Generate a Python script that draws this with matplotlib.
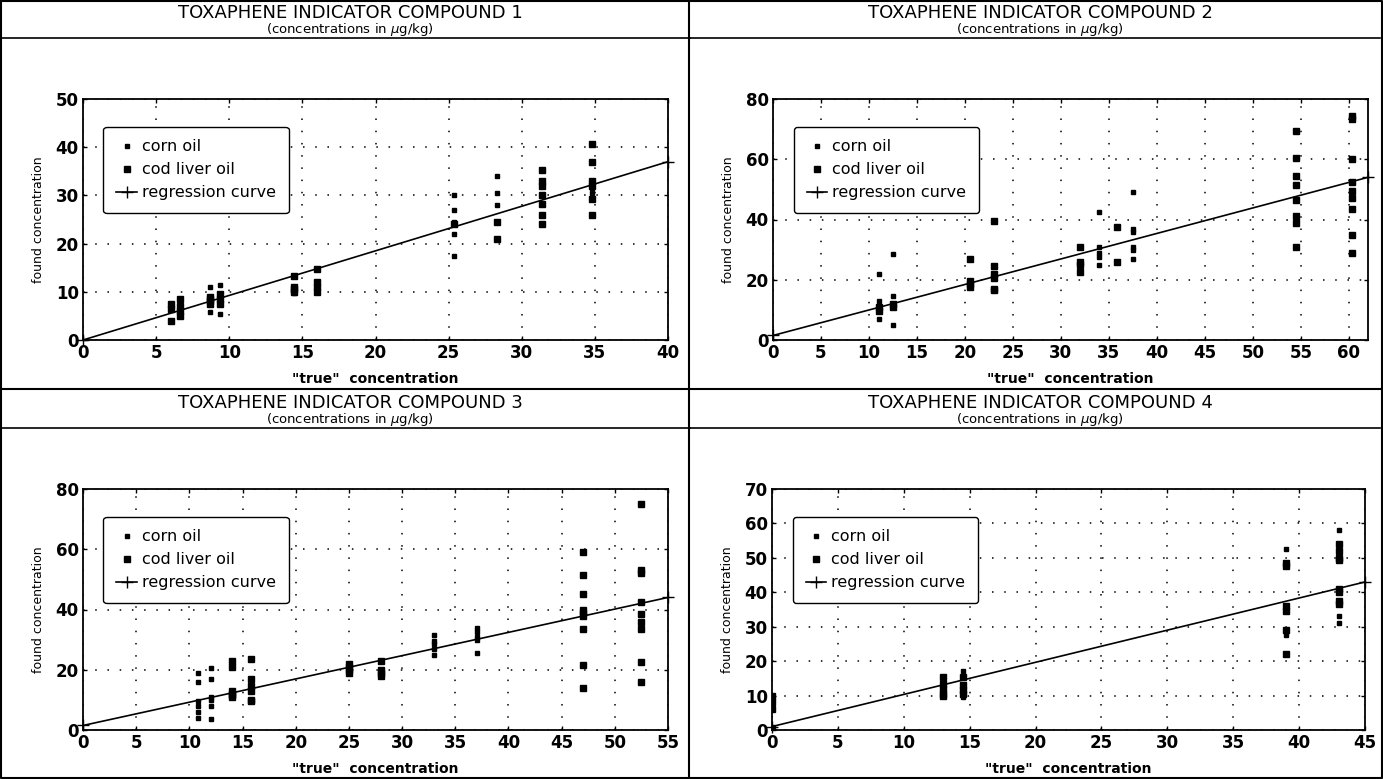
from matplotlib import pyplot as plt
from matplotlib.lines import Line2D
import numpy as np

# figure size in pixels (saved at dpi 100)
figW, figH = 1383, 779

titles = ['TOXAPHENE INDICATOR COMPOUND 1', 'TOXAPHENE INDICATOR COMPOUND 2',
          'TOXAPHENE INDICATOR COMPOUND 3', 'TOXAPHENE INDICATOR COMPOUND 4']
subtitle = '(concentrations in $\\mu$g/kg)'

# compound 1
cornX1 = [6.0, 6.6, 8.7, 8.7, 9.4, 9.4, 14.4, 25.4, 25.4, 25.4, 25.4, 25.4,
          28.3, 28.3, 28.3, 34.8, 34.8]
cornY1 = [7, 6, 11, 5.8, 11.5, 5.3, 9.8, 30, 27, 24.5, 22, 17.5,
          34, 30.5, 28, 31.5, 30.5]
codX1 = [6.0, 6.0, 6.0, 6.6, 6.6, 6.6, 6.6, 8.7, 8.7, 8.7, 8.7, 9.4, 9.4, 9.4,
         14.4, 14.4, 14.4, 14.4, 16.0, 16.0, 16.0, 16.0, 25.4, 28.3, 28.3,
         31.4, 31.4, 31.4, 31.4, 31.4, 31.4, 31.4,
         34.8, 34.8, 34.8, 34.8, 34.8, 34.8]
codY1 = [4, 6.5, 7.5, 5, 6, 7, 8.5, 7.5, 8, 8.5, 9, 7.5, 8.5, 9.5,
         13.2, 11, 10.5, 10, 14.8, 12, 11, 10, 24, 24.5, 21,
         35.3, 33, 32, 30, 28.2, 26, 24,
         40.7, 37, 33, 32, 29.3, 26]
regX1 = [0, 40]
regY1 = [0, 37]

# compound 2
cornX2 = [11, 11, 11, 12.5, 12.5, 12.5, 34, 34, 34, 34, 34,
          37.5, 37.5, 37.5, 37.5, 37.5, 37.5]
cornY2 = [22, 13, 7, 28.5, 14.5, 5, 42.5, 31, 29, 27.5, 25,
          49, 37, 36, 31, 30, 27]
codX2 = [11, 11, 12.5, 12.5, 20.5, 20.5, 20.5, 20.5, 23, 23, 23, 23, 23, 23,
         32, 32, 32, 32, 35.8, 35.8,
         54.5, 54.5, 54.5, 54.5, 54.5, 54.5, 54.5, 54.5,
         60.3, 60.3, 60.3, 60.3, 60.3, 60.3, 60.3, 60.3, 60.3]
codY2 = [9.5, 11, 11, 12, 27, 19.5, 18.5, 17.5, 39.5, 24.5, 22, 20.5, 17, 16.5,
         31, 26, 25, 22.5, 37.5, 26,
         69.5, 60.5, 54.5, 51.5, 46.5, 41, 39, 31,
         74.5, 73.5, 60, 52.5, 49.5, 47, 43.5, 35, 29]
regX2 = [0, 62]
regY2 = [1.5, 54]

# compound 3
cornX3 = [10.8] * 6 + [12] * 6 + [33] * 5 + [37] * 5
cornY3 = [19, 16, 9.5, 8, 6, 4, 20.5, 17, 11, 10, 8, 3.5,
          31.5, 29.5, 28.5, 27, 25, 34, 32.5, 31, 30, 25.5]
codX3 = [14] * 6 + [15.8] * 6 + [25] * 4 + [28] * 4 + [47] * 9 + [52.5] * 9
codY3 = [23, 21, 13, 12, 11.5, 11, 23.5, 17, 14.5, 13, 10, 9.5,
         22, 21, 20, 19, 23, 20, 19, 18,
         59, 51.5, 45, 40, 39, 38, 33.5, 21.5, 14,
         75, 53, 52, 42.5, 38.5, 36, 33.5, 22.5, 16]
regX3 = [0, 55]
regY3 = [1.5, 44]

# compound 4
cornX4 = [13, 14.5, 14.5, 39, 39, 39, 43, 43, 43]
cornY4 = [14, 17, 9.5, 52.5, 35, 27.5, 58, 33, 31]
codX4 = [0] * 4 + [13] * 5 + [14.5] * 4 + [39] * 6 + [43] * 8
codY4 = [10, 8, 6, 0.5, 15.5, 13.5, 12, 10.5, 10, 15.5, 13, 11.5, 10.5,
         48.5, 47.5, 36, 34.5, 29, 22,
         54, 52, 50, 49.5, 41, 40, 37.5, 36.5]
regX4 = [0, 45]
regY4 = [1, 43]

xMax = [40, 62, 55, 45]
yMax = [50, 80, 80, 70]
yStep = [10, 20, 20, 10]

# panel origins (pixels from the top left corner) and axes extent inside a panel
panelOrigins = [(0, 0), (690, 0), (0, 390), (690, 390)]
axesLeftRight = [(83, 668), (83, 678), (83, 668), (82, 675)]
axesTop, axesBottom = 99, 340


def fx(px):
  return px / figW


def fy(py):
  return 1 - py / figH


def drawPanel(fig, i, cornX, cornY, codX, codY, regX, regY):
  ox, oy = panelOrigins[i]
  left, right = axesLeftRight[i]
  ax = fig.add_axes([fx(ox + left), fy(oy + axesBottom),
                     (right - left) / figW, (axesBottom - axesTop) / figH])

  ax.plot(cornX, cornY, 's', color='black', ms=2.2, ls='none', label='corn oil')
  ax.plot(codX, codY, 's', color='black', ms=5, ls='none', label='cod liver oil')
  ax.plot(regX, regY, '-', color='black', lw=1.2, marker='+', ms=9,
          mew=1.0, clip_on=False, label='regression curve')

  ax.set_xlim(0, xMax[i])
  ax.set_ylim(0, yMax[i])
  ax.set_xticks(np.arange(0, xMax[i] + 0.1, 5))
  ax.set_yticks(np.arange(0, yMax[i] + 0.1, yStep[i]))
  ax.grid(True, color='black', lw=1.1, ls=(0, (1, 7)))
  ax.tick_params(direction='in', top=True, right=True, length=3, width=1,
                 labelsize=12, pad=3)
  for lab in ax.get_xticklabels() + ax.get_yticklabels():
    lab.set_fontweight('bold')
  for sp in ax.spines.values():
    sp.set_linewidth(1.3)

  ax.set_xlabel('"true"  concentration', fontsize=10, fontweight='bold', labelpad=7)
  ax.set_ylabel('found concentration', fontsize=9, labelpad=8)

  leg = ax.legend(loc='upper left', bbox_to_anchor=(0.035, 0.885), fontsize=11.5,
                  frameon=True, fancybox=True, edgecolor='black', framealpha=1,
                  borderpad=0.8, labelspacing=0.5, handlelength=1.3,
                  handletextpad=0.3, borderaxespad=0)
  leg.get_frame().set_linewidth(1.0)

  # titles and rule under them
  cx = ox + 350
  fig.text(fx(cx), fy(oy + 13), titles[i], ha='center', va='center',
           fontsize=13, family='DejaVu Sans')
  fig.text(fx(cx), fy(oy + 29), subtitle, ha='center', va='center',
           fontsize=9.5, family='DejaVu Sans')
  fig.add_artist(Line2D([fx(ox), fx(ox + 690)], [fy(oy + 38), fy(oy + 38)],
                        color='black', lw=1.2))
  return ax


fig = plt.figure(figsize=(figW / 100, figH / 100), dpi=100)

drawPanel(fig, 0, cornX1, cornY1, codX1, codY1, regX1, regY1)
drawPanel(fig, 1, cornX2, cornY2, codX2, codY2, regX2, regY2)
drawPanel(fig, 2, cornX3, cornY3, codX3, codY3, regX3, regY3)
drawPanel(fig, 3, cornX4, cornY4, codX4, codY4, regX4, regY4)

# outer frame and panel separators
frame = dict(color='black', lw=1.5)
fig.add_artist(Line2D([fx(1), fx(1382), fx(1382), fx(1), fx(1)],
                      [fy(1), fy(1), fy(778), fy(778), fy(1)], **frame))
fig.add_artist(Line2D([fx(689), fx(689)], [fy(0), fy(779)], **frame))
fig.add_artist(Line2D([fx(0), fx(1383)], [fy(389), fy(389)], **frame))

plt.savefig('out.png', dpi=100)
